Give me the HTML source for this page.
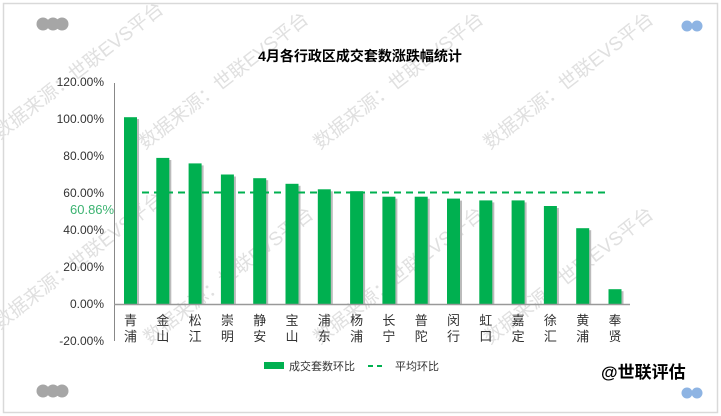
<!DOCTYPE html>
<html><head><meta charset="utf-8"><style>
html,body{margin:0;padding:0;background:#fff;overflow:hidden}
svg{display:block}
svg text{font-family:"Liberation Sans","Noto Sans CJK SC",sans-serif}
</style></head><body>
<svg width="721" height="416" viewBox="0 0 721 416" xmlns="http://www.w3.org/2000/svg">
<rect x="3.5" y="3.5" width="714" height="409" fill="#fff" stroke="#d9d9d9" stroke-width="1.5"/>
<g fill="#a6a6a6"><circle cx="43" cy="24" r="6.5"/><circle cx="53" cy="24" r="6.5"/><circle cx="62" cy="24" r="6.5"/>
<circle cx="43" cy="391" r="6.5"/><circle cx="53" cy="391" r="6.5"/><circle cx="62" cy="391" r="6.5"/></g>
<g fill="#8eb4e3"><circle cx="687" cy="26" r="5.5"/><circle cx="697" cy="26" r="5.5"/><circle cx="687" cy="393" r="5.5"/><circle cx="697" cy="393" r="5.5"/></g>
<g fill="#e0e0e0" font-size="19">
<text transform="translate(0,140) rotate(-38)">数据来源：世联EVS平台</text>
<text transform="translate(145,150) rotate(-38)">数据来源：世联EVS平台</text>
<text transform="translate(320,150) rotate(-38)">数据来源：世联EVS平台</text>
<text transform="translate(490,150) rotate(-38)">数据来源：世联EVS平台</text>
<text transform="translate(0,330) rotate(-38)">数据来源：世联EVS平台</text>
<text transform="translate(150,345) rotate(-38)">数据来源：世联EVS平台</text>
<text transform="translate(320,345) rotate(-38)">数据来源：世联EVS平台</text>
<text transform="translate(490,345) rotate(-38)">数据来源：世联EVS平台</text>
</g>
<text x="360" y="61" font-size="14" font-weight="bold" text-anchor="middle" fill="#000">4月各行政区成交套数涨跌幅统计</text>
<g font-size="12" fill="#333" text-anchor="end">
<text x="104" y="86">120.00%</text><text x="104" y="123">100.00%</text><text x="104" y="160">80.00%</text>
<text x="104" y="197">60.00%</text><text x="104" y="234">40.00%</text><text x="104" y="271">20.00%</text>
<text x="104" y="308">0.00%</text><text x="104" y="345">-20.00%</text></g>
<text x="70" y="214" font-size="13" fill="#3cb371">60.86%</text>
<line x1="114.5" y1="83" x2="114.5" y2="341" stroke="#888"/>
<g fill="#bbb">
<rect x="126" y="119" width="13" height="185"/>
<rect x="158.3" y="160" width="13" height="144"/>
<rect x="190.6" y="165.4" width="13" height="138.6"/>
<rect x="222.9" y="176.5" width="13" height="127.5"/>
<rect x="255.2" y="180.2" width="13" height="123.8"/>
<rect x="287.5" y="185.8" width="13" height="118.2"/>
<rect x="319.8" y="191.3" width="13" height="112.7"/>
<rect x="352.1" y="193.2" width="13" height="110.8"/>
<rect x="384.4" y="198.7" width="13" height="105.3"/>
<rect x="416.7" y="198.7" width="13" height="105.3"/>
<rect x="449" y="200.6" width="13" height="103.4"/>
<rect x="481.3" y="202.4" width="13" height="101.6"/>
<rect x="513.6" y="202.4" width="13" height="101.6"/>
<rect x="545.9" y="208" width="13" height="96"/>
<rect x="578.2" y="230.2" width="13" height="73.8"/>
<rect x="610.5" y="291.2" width="13" height="12.8"/>
</g>
<g fill="#00b050">
<rect x="124" y="117.2" width="13" height="186.8"/>
<rect x="156.3" y="157.9" width="13" height="146.1"/>
<rect x="188.6" y="163.4" width="13" height="140.6"/>
<rect x="220.9" y="174.5" width="13" height="129.5"/>
<rect x="253.2" y="178.2" width="13" height="125.8"/>
<rect x="285.5" y="183.8" width="13" height="120.2"/>
<rect x="317.8" y="189.3" width="13" height="114.7"/>
<rect x="350.1" y="191.2" width="13" height="112.8"/>
<rect x="382.4" y="196.7" width="13" height="107.3"/>
<rect x="414.7" y="196.7" width="13" height="107.3"/>
<rect x="447" y="198.6" width="13" height="105.4"/>
<rect x="479.3" y="200.4" width="13" height="103.6"/>
<rect x="511.6" y="200.4" width="13" height="103.6"/>
<rect x="543.9" y="206" width="13" height="98"/>
<rect x="576.2" y="228.2" width="13" height="75.8"/>
<rect x="608.5" y="289.2" width="13" height="14.8"/>
</g>
<line x1="114" y1="304.5" x2="630" y2="304.5" stroke="#999" stroke-width="1.5"/>
<line x1="142" y1="192.5" x2="610" y2="192.5" stroke="#00b050" stroke-width="2" stroke-dasharray="7,5"/>
<g font-size="13" fill="#333" text-anchor="middle">
<text x="130.5" y="325">青</text><text x="130.5" y="341">浦</text>
<text x="162.8" y="325">金</text><text x="162.8" y="341">山</text>
<text x="195.1" y="325">松</text><text x="195.1" y="341">江</text>
<text x="227.4" y="325">崇</text><text x="227.4" y="341">明</text>
<text x="259.7" y="325">静</text><text x="259.7" y="341">安</text>
<text x="292" y="325">宝</text><text x="292" y="341">山</text>
<text x="324.3" y="325">浦</text><text x="324.3" y="341">东</text>
<text x="356.6" y="325">杨</text><text x="356.6" y="341">浦</text>
<text x="388.9" y="325">长</text><text x="388.9" y="341">宁</text>
<text x="421.2" y="325">普</text><text x="421.2" y="341">陀</text>
<text x="453.5" y="325">闵</text><text x="453.5" y="341">行</text>
<text x="485.8" y="325">虹</text><text x="485.8" y="341">口</text>
<text x="518.1" y="325">嘉</text><text x="518.1" y="341">定</text>
<text x="550.4" y="325">徐</text><text x="550.4" y="341">汇</text>
<text x="582.7" y="325">黄</text><text x="582.7" y="341">浦</text>
<text x="615" y="325">奉</text><text x="615" y="341">贤</text>
</g>
<rect x="264" y="362" width="20" height="7" fill="#00b050"/>
<text x="289" y="370" font-size="11" fill="#333">成交套数环比</text>
<line x1="368" y1="366" x2="386" y2="366" stroke="#00b050" stroke-width="2" stroke-dasharray="5,4"/>
<text x="395" y="370" font-size="11" fill="#333">平均环比</text>
<text x="601" y="378" font-size="17" font-weight="bold" fill="#000">@世联评估</text>
</svg>
</body></html>
